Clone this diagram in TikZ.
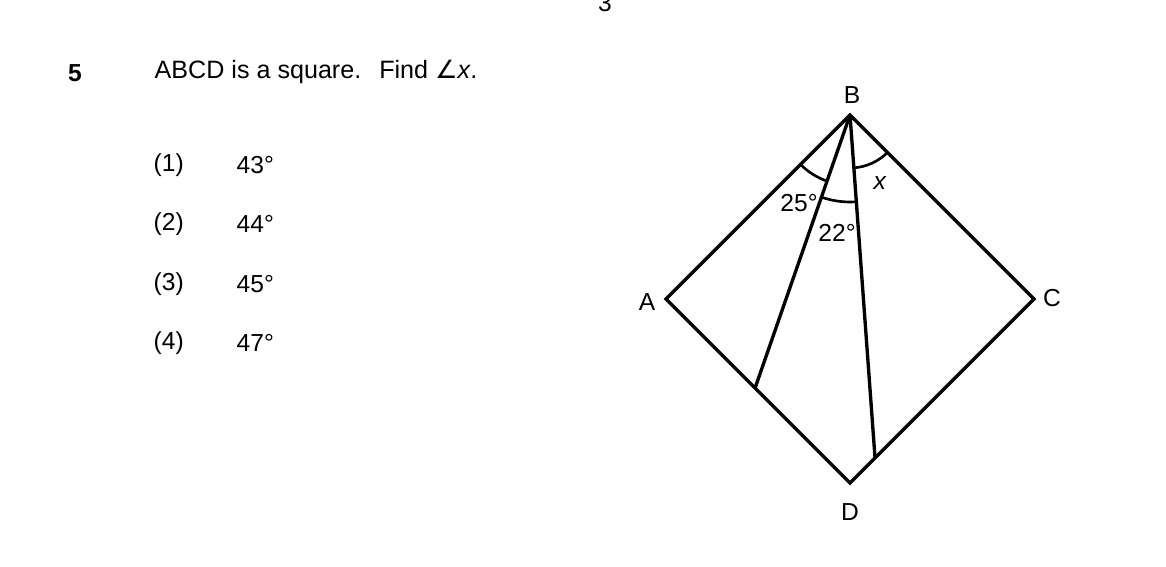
\documentclass[tikz,border=0pt]{standalone}
\usepackage{fontspec}
\setmainfont{Liberation Sans}
\newfontfamily\symfont{DejaVu Sans}
\usetikzlibrary{calc}
\usetikzlibrary{angles}
\begin{document}
\begin{tikzpicture}[x=0.02cm, y=0.02cm, line width=1.9pt, line join=miter,
	txt/.style ={inner sep=0pt, font=\fontsize{14}{17}\selectfont},
	anglearc/.style ={draw, line width=1.5pt}]
\useasboundingbox (0,0) rectangle (1166,566);
% page number and question
\node[txt] (page) at (605,563) {3};
\node[txt, font=\fontsize{14}{17}\selectfont\bfseries] (num) at (75,493) {5};
\node[txt, anchor=west, font=\fontsize{14.3}{17}\selectfont] (q) at (153,494) {ABCD is a square.\hspace{0.36cm}Find {\symfont ∠}\textit{x}.};
% answer choices
\node[txt, anchor=west] (o1) at (152,401) {(1)};
\node[txt, anchor=west] (o2) at (152,342) {(2)};
\node[txt, anchor=west] (o3) at (152,282) {(3)};
\node[txt, anchor=west] (o4) at (152,223) {(4)};
\node[txt, anchor=west] (v1) at (235,401) {43°};
\node[txt, anchor=west] (v2) at (235,342) {44°};
\node[txt, anchor=west] (v3) at (235,282) {45°};
\node[txt, anchor=west] (v4) at (235,223) {47°};
% the square
\coordinate (A) at (666,267);
\coordinate (B) at (850,451);
\coordinate (C) at (1034,267);
\coordinate (D) at (850,83);
\coordinate (E) at ($(A)!0.484!(D)$);
\coordinate (F) at ($(D)!0.136!(C)$);
\draw (A) -- (B) -- (C) -- (D) -- cycle;
\draw (B) -- (E);
\draw (B) -- (F);
\pic[anglearc, angle radius=1.4cm] {angle = A--B--E};
\pic[anglearc, angle radius=1.74cm] {angle = E--B--F};
\pic[anglearc, angle radius=1.06cm] {angle = F--B--C};
% labels
\node[txt] (lA) at (647,264) {A};
\node[txt] (lB) at (852,471) {B};
\node[txt] (lC) at (1052,268) {C};
\node[txt] (lD) at (850,54) {D};
\node[txt] (a25) at (799,363) {25°};
\node[txt] (a22) at (837,333) {22°};
\node[txt] (ax) at (880,383) {\textit{x}};
\end{tikzpicture}
\end{document}
